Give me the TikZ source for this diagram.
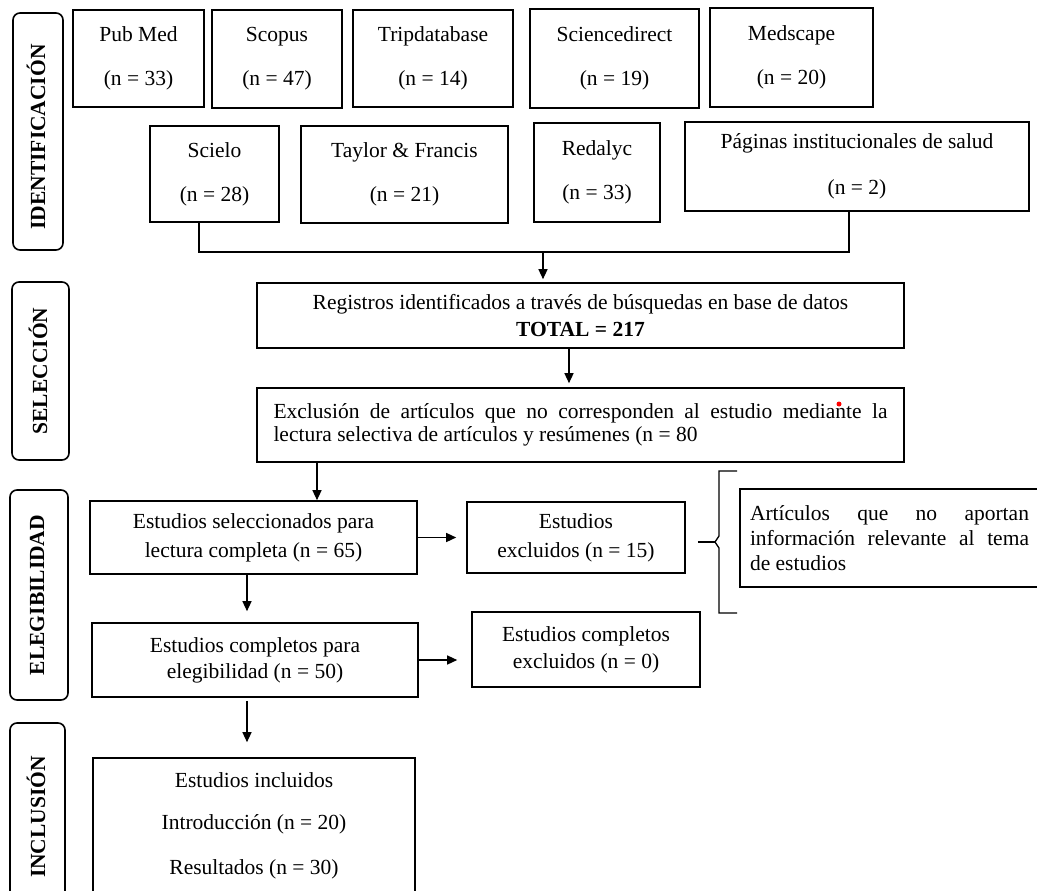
\documentclass[tikz,border=0pt]{standalone}
\usepackage{fontspec}
\setmainfont{Liberation Serif}
\usetikzlibrary{arrows.meta}
\newcommand{\myfs}{\fontsize{21.5}{25}\selectfont}
\begin{document}
\begin{tikzpicture}[x=1pt,y=-1pt,
  box/.style={draw, line width=1.6pt, inner sep=0pt, align=center, font=\myfs},
  lab/.style={draw, line width=1.6pt, rounded corners=7pt, inner sep=0pt},
  labtxt/.style={rotate=90, font=\myfs\bfseries, inner sep=0pt},
  arr/.style={line width=1.3pt, -{Triangle[length=10pt,width=9pt]}},
  ln/.style={line width=1.3pt}]
\useasboundingbox (0,0) rectangle (1037,891);
% side labels
\node[lab, minimum width=50pt, minimum height=237pt] (lid) at (38,131.5) {};
\node[labtxt] (tid) at (36,137) {IDENTIFICACIÓN};
\node[lab, minimum width=57pt, minimum height=178pt] (lse) at (40.5,371) {};
\node[labtxt] (tse) at (38,371) {SELECCIÓN};
\node[lab, minimum width=58pt, minimum height=210pt] (lel) at (39,595) {};
\node[labtxt] (tel) at (37,595) {ELEGIBILIDAD};
\node[lab, minimum width=55pt, minimum height=180pt] (lin) at (37.5,813) {};
\node[labtxt] (tin) at (36,817) {INCLUSIÓN};
% identification boxes
\node[box, minimum width=131pt, minimum height=97pt] (pubmed) at (138.5,58.5) {Pub Med\\[19pt](n = 33)};
\node[box, minimum width=130pt, minimum height=98pt] (scopus) at (277,59) {Scopus\\[19pt](n = 47)};
\node[box, minimum width=160pt, minimum height=97pt] (trip) at (433,58.5) {Tripdatabase\\[19pt](n = 14)};
\node[box, minimum width=169pt, minimum height=99pt] (scidir) at (614.5,58.5) {Sciencedirect\\[19pt](n = 19)};
\node[box, minimum width=163pt, minimum height=99pt] (medscape) at (791.5,57.5) {Medscape\\[19pt](n = 20)};
\node[box, minimum width=129pt, minimum height=96pt] (scielo) at (214.5,174) {Scielo\\[19pt](n = 28)};
\node[box, minimum width=207pt, minimum height=97pt] (taylor) at (404.5,174.5) {Taylor \& Francis\\[19pt](n = 21)};
\node[box, minimum width=126pt, minimum height=99pt] (redalyc) at (597,172.5) {Redalyc\\[19pt](n = 33)};
\node[box, minimum width=344pt, minimum height=89pt] (paginas) at (857,166.5) {Páginas institucionales de salud\\[21pt](n = 2)};
% selection
\node[box, minimum width=647pt, minimum height=65pt] (reg) at (580.5,315.5) {Registros identificados a través de búsquedas en base de datos\\[2pt]\textbf{TOTAL = 217}};
\node[box, minimum width=647pt, minimum height=74pt, align=left] (excl) at (580.5,425) {\makebox[614pt][s]{Exclusión de artículos que no corresponden al estudio mediante la}\\[-2pt]lectura selectiva de artículos y resúmenes (n = 80\makebox[170pt]{}};
\fill[red] (839,404) circle (2.5pt);
% eligibility
\node[box, minimum width=327pt, minimum height=73pt] (sel) at (253.5,537.5) {Estudios seleccionados para\\[4pt]lectura completa (n = 65)};
\node[box, minimum width=218pt, minimum height=71pt] (exc15) at (576,537.5) {Estudios\\[4pt]excluidos (n = 15)};
\node[box, minimum width=299pt, minimum height=98pt, align=left] (art) at (889.5,538) {\makebox[279pt][s]{Artículos que no aportan}\\[0pt]\makebox[279pt][s]{información relevante al tema}\\[0pt]de estudios\makebox[170pt]{}};
\node[box, minimum width=326pt, minimum height=74pt] (comp) at (255,660) {Estudios completos para\\[1pt]elegibilidad (n = 50)};
\node[box, minimum width=228pt, minimum height=75pt] (compexc) at (586,649.5) {Estudios completos\\[2pt]excluidos (n = 0)};
% inclusion
\node[box, minimum width=322pt, minimum height=136pt] (incl) at (254,826) {Estudios incluidos\\[17pt]Introducción (n = 20)\\[20pt]Resultados (n = 30)};
% connectors
\coordinate (j1) at (199,252);
\coordinate (j2) at (849,252);
\coordinate (j) at (543,252);
\draw[ln] (scielo.south -| j1) -- (j1) -- (j2) -- (paginas.south -| j2);
\draw[arr, shorten >=3pt] (j) -- (reg.north -| j);
\coordinate (x1) at (569,0);
\draw[arr, shorten >=4pt] (reg.south -| x1) -- (excl.north -| x1);
\coordinate (x2) at (317,0);
\draw[arr] (excl.south -| x2) -- (sel.north -| x2);
\draw[arr, shorten >=10pt] (sel.east) -- (exc15.west);
\coordinate (x3) at (247,0);
\draw[arr, shorten >=11pt] (sel.south -| x3) -- (comp.north -| x3);
\draw[arr, shorten >=14pt] (comp.east) -- (compexc.west |- comp.east);
\draw[arr, shorten <=3pt, shorten >=15pt] (comp.south -| x3) -- (incl.north -| x3);
% bracket
\coordinate (br) at (716,542);
\draw[ln, shorten <=12pt] (exc15.east |- br) -- (br);
\draw[ln] (737,471) -- (719,471) -- (719,536) -- (715,542) -- (719,548) -- (719,613) -- (737,613);
\end{tikzpicture}
\end{document}
